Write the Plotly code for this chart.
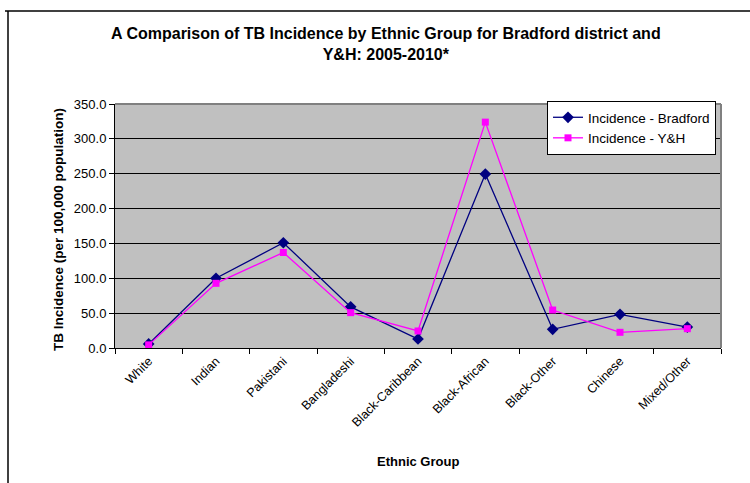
import plotly.graph_objects as go

# TB incidence per 100,000 population, 2005-2010
groups = ["White", "Indian", "Pakistani", "Bangladeshi", "Black-Caribbean",
          "Black-African", "Black-Other", "Chinese", "Mixed/Other"]
bradford = [5.8, 100.0, 151.0, 59.0, 12.9, 249.5, 26.8, 48.3, 30.0]
yh = [4.5, 92.8, 137.0, 50.7, 24.4, 324.0, 54.5, 22.5, 27.7]

y_ticks = [0, 50, 100, 150, 200, 250, 300, 350]

FONT = "Arial, Liberation Sans, sans-serif"

fig = go.Figure()
fig.add_trace(go.Scatter(
    x=groups, y=bradford, name="Incidence - Bradford", mode="lines+markers",
    line=dict(color="#000080", width=1.3),
    marker=dict(symbol="diamond", size=9, color="#000080"),
))
fig.add_trace(go.Scatter(
    x=groups, y=yh, name="Incidence - Y&H", mode="lines+markers",
    line=dict(color="#FF00FF", width=1.3),
    marker=dict(symbol="square", size=7, color="#FF00FF"),
))

W, H = 750, 483
L, R, T, B = 115, 29, 104, 135
PW, PH = W - L - R, H - T - B


def px_x(x):
    return (x - L) / PW


def px_y(y):
    return (H - B - y) / PH


fig.update_layout(
    width=W, height=H,
    margin=dict(l=L, r=R, t=T, b=B),
    paper_bgcolor="white",
    plot_bgcolor="#C0C0C0",
    font=dict(family=FONT, color="black", size=12),
    showlegend=True,
    legend=dict(
        x=px_x(547), xanchor="left",
        y=px_y(101), yanchor="top",
        bgcolor="white", bordercolor="black", borderwidth=1,
        font=dict(size=13.5, family=FONT),
    ),
    xaxis=dict(
        type="category", range=[-0.5, len(groups) - 0.5],
        tickson="boundaries", ticks="outside", ticklen=5, tickcolor="black",
        showline=True, linecolor="black", linewidth=1,
        showgrid=False, tickangle=-45, tickfont=dict(size=12.5, family=FONT),
    ),
    yaxis=dict(
        range=[0, 350], tickvals=y_ticks, tickformat=".1f",
        ticks="outside", ticklen=5, tickcolor="black",
        showline=True, linecolor="black", linewidth=1,
        showgrid=True, gridcolor="black", gridwidth=1,
        tickfont=dict(size=13, family=FONT), zeroline=False,
    ),
    annotations=[
        dict(text="<b>A Comparison of TB Incidence by Ethnic Group for Bradford district and<br>Y&H: 2005-2010*</b>",
             xref="paper", yref="paper", x=px_x(386), y=px_y(44.5),
             xanchor="center", yanchor="middle", showarrow=False,
             font=dict(size=16, family=FONT)),
        dict(text="<b>Ethnic Group</b>", xref="paper", yref="paper",
             x=px_x(418), y=px_y(461),
             xanchor="center", yanchor="middle", showarrow=False,
             font=dict(size=13, family=FONT)),
        dict(text="<b>TB Incidence (per 100,000 population)</b>",
             xref="paper", yref="paper",
             x=px_x(58), y=px_y(230), textangle=-90,
             xanchor="center", yanchor="middle", showarrow=False,
             font=dict(size=13.5, family=FONT)),
    ],
    shapes=[
        # gray frame on top and right of the plot area
        dict(type="line", xref="paper", yref="paper", x0=0, x1=1, y0=1, y1=1,
             line=dict(color="#808080", width=2)),
        dict(type="line", xref="paper", yref="paper", x0=1, x1=1, y0=0, y1=1,
             line=dict(color="#808080", width=2)),
        # outer chart border
        dict(type="line", xref="paper", yref="paper",
             x0=px_x(5), x1=px_x(W + 5), y0=px_y(11), y1=px_y(11),
             line=dict(color="black", width=1.5)),
        dict(type="line", xref="paper", yref="paper",
             x0=px_x(8), x1=px_x(8), y0=px_y(11), y1=px_y(H + 5),
             line=dict(color="black", width=1.5)),
    ],
)

fig.write_html("out.html")
